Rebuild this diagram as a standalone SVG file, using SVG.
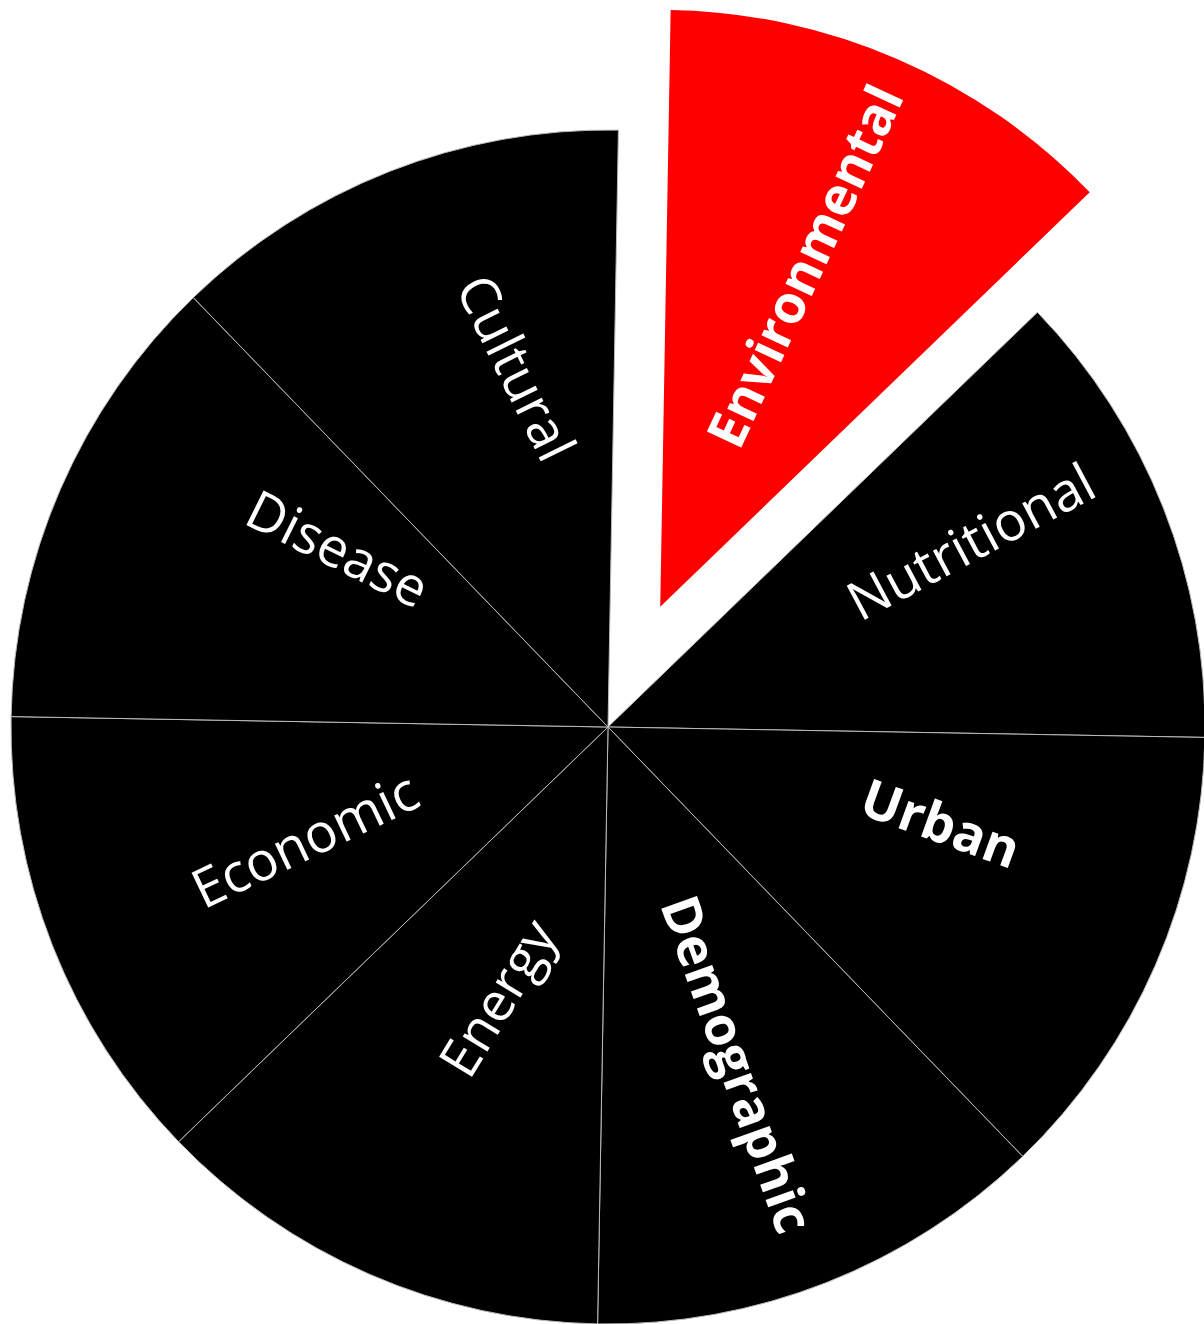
<svg xmlns="http://www.w3.org/2000/svg" width="1204" height="1324" viewBox="0 0 1204 1324">
  <style>
    .slice { fill: #000000; stroke: #bbbbbb; stroke-width: 1; stroke-linejoin: round; }
    .hot { fill: #ff0000; stroke: none; }
    .lbl { font-family: "Open Sans", "Noto Sans", "Liberation Sans", sans-serif; font-size: 54px; fill: #ffffff; text-anchor: middle; }
    .b { font-weight: bold; font-size: 53px; }
  </style>
  <rect width="1204" height="1324" fill="#ffffff"/>
  <g id="slice-nutritional">
    <path class="slice" d="M608,727 L1037.45,312.29 A597,597 0 0 1 1204.91,737.42 Z"/>
    <text class="lbl" transform="translate(970.5,541) rotate(-28)" y="20">Nutritional</text>
  </g>
  <g id="slice-urban">
    <path class="slice" d="M608,727 L1204.91,737.42 A597,597 0 0 1 1022.71,1156.45 Z"/>
    <text class="lbl b" transform="translate(940,825.5) rotate(20)" y="16.7">Urban</text>
  </g>
  <g id="slice-demographic">
    <path class="slice" d="M608,727 L1022.71,1156.45 A597,597 0 0 1 597.58,1323.91 Z"/>
    <text class="lbl b" transform="translate(735,1065) rotate(70.3)" y="16.7">Demographic</text>
  </g>
  <g id="slice-energy">
    <path class="slice" d="M608,727 L597.58,1323.91 A597,597 0 0 1 178.55,1141.71 Z"/>
    <text class="lbl" transform="translate(502.4,1000.7) rotate(-58.5)" y="13.8">Energy</text>
  </g>
  <g id="slice-economic">
    <path class="slice" d="M608,727 L178.55,1141.71 A597,597 0 0 1 11.09,716.58 Z"/>
    <text class="lbl" transform="translate(306,842) rotate(-25.5)" y="17">Economic</text>
  </g>
  <g id="slice-disease">
    <path class="slice" d="M608,727 L11.09,716.58 A597,597 0 0 1 193.29,297.55 Z"/>
    <text class="lbl" transform="translate(336.7,550.8) rotate(26.4)" y="17">Disease</text>
  </g>
  <g id="slice-cultural">
    <path class="slice" d="M608,727 L193.29,297.55 A597,597 0 0 1 618.42,130.09 Z"/>
    <text class="lbl" transform="translate(516.7,367.5) rotate(63.7)" y="20">Cultural</text>
  </g>
  <g id="slice-environmental">
    <path class="hot" d="M660.24,606.87 L670.66,9.96 A597,597 0 0 1 1089.69,192.16 Z"/>
    <text class="lbl b" transform="translate(804.2,265.8) rotate(-65)" y="19.6">Environmental</text>
  </g>
  <g id="connectors"/>
</svg>
